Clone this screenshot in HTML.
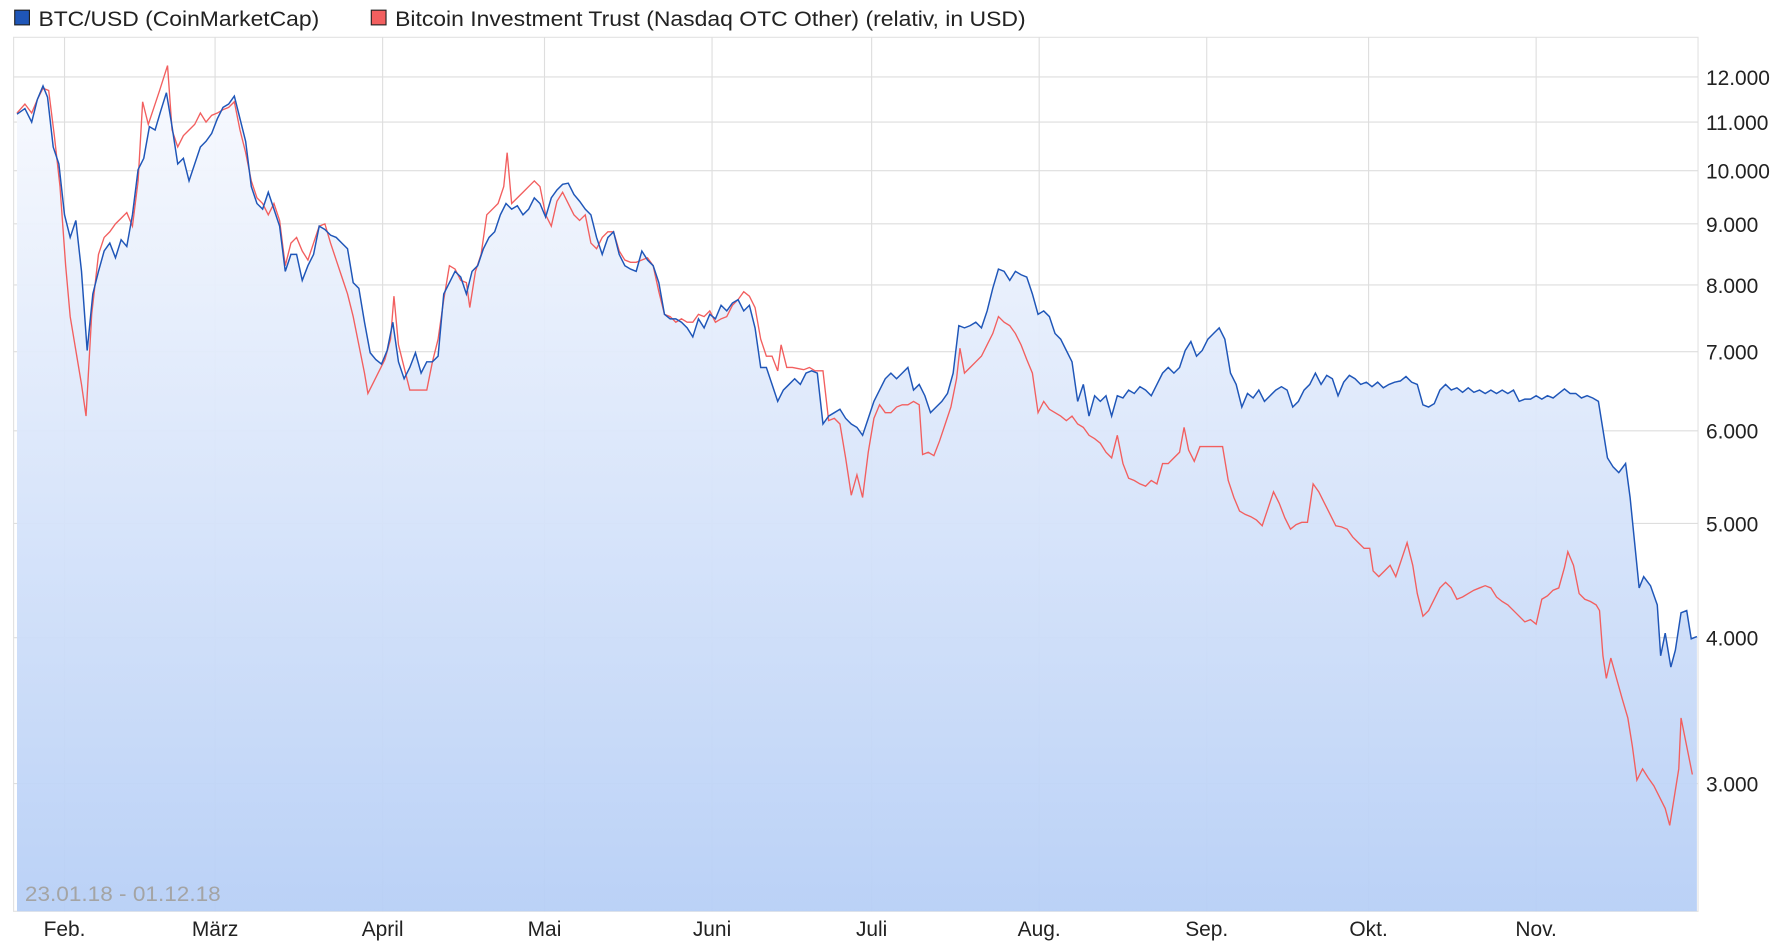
<!DOCTYPE html>
<html><head><meta charset="utf-8"><style>html,body{margin:0;padding:0;background:#fff}svg{display:block}</style></head><body>
<svg width="1775" height="952" viewBox="0 0 1568 842" preserveAspectRatio="none" xmlns="http://www.w3.org/2000/svg" font-family="Liberation Sans, sans-serif">
<defs><linearGradient id="g" x1="0" y1="0" x2="0" y2="1"><stop offset="0" stop-color="#f7f9fe"/><stop offset="1" stop-color="#b7cff6"/></linearGradient></defs>
<rect x="12" y="33" width="1488" height="773" fill="#fff" stroke="#e2e2e2"/>
<g stroke="#dedede" stroke-width="1">
<line x1="12" x2="1500" y1="68" y2="68"/><line x1="12" x2="1500" y1="108" y2="108"/><line x1="12" x2="1500" y1="151" y2="151"/><line x1="12" x2="1500" y1="198" y2="198"/><line x1="12" x2="1500" y1="252" y2="252"/><line x1="12" x2="1500" y1="311" y2="311"/><line x1="12" x2="1500" y1="381" y2="381"/><line x1="12" x2="1500" y1="463" y2="463"/><line x1="12" x2="1500" y1="564" y2="564"/><line x1="12" x2="1500" y1="693" y2="693"/>
<line x1="57" x2="57" y1="33" y2="806"/><line x1="190" x2="190" y1="33" y2="806"/><line x1="338" x2="338" y1="33" y2="806"/><line x1="481" x2="481" y1="33" y2="806"/><line x1="629" x2="629" y1="33" y2="806"/><line x1="770" x2="770" y1="33" y2="806"/><line x1="918" x2="918" y1="33" y2="806"/><line x1="1066" x2="1066" y1="33" y2="806"/><line x1="1209" x2="1209" y1="33" y2="806"/><line x1="1357" x2="1357" y1="33" y2="806"/>
</g>
<polygon fill="url(#g)" opacity="0.95" points="15,806 15,101 22,96 28,108 33,88 38,76 42,86 47,130 52,145 57,190 62,210 67,195 72,240 77,310 82,260 87,240 92,222 97,215 102,228 107,212 112,218 117,190 122,150 127,140 132,112 137,115 142,98 147,82 152,112 157,145 162,140 167,160 172,145 177,130 182,125 187,118 192,105 197,95 202,92 207,85 212,105 217,125 222,165 227,180 232,185 237,170 242,185 247,200 252,240 257,225 262,225 267,248 272,235 277,225 282,200 287,203 292,208 297,210 302,215 307,220 312,250 317,255 322,285 327,312 332,318 337,322 342,310 347,285 352,320 357,335 362,325 367,312 372,330 377,320 382,320 387,315 392,260 397,250 402,240 407,245 412,260 417,240 422,235 427,220 432,210 437,205 442,190 447,180 452,185 457,182 462,190 467,185 472,175 477,180 482,192 487,175 492,168 497,163 502,162 507,172 512,178 517,185 522,190 527,210 532,225 537,210 542,205 547,225 552,235 557,238 562,240 567,222 572,230 577,235 582,250 587,278 592,282 597,282 602,285 607,290 612,298 617,282 622,290 627,278 632,282 637,270 642,275 647,268 652,265 657,275 662,270 667,290 672,325 677,325 682,340 687,355 692,345 697,340 702,335 707,340 712,330 717,328 722,330 727,375 732,368 737,365 742,362 747,370 752,375 757,378 762,385 767,370 772,355 777,345 782,335 787,330 792,335 797,330 802,325 807,345 812,340 817,350 822,365 827,360 832,355 837,348 842,330 847,288 852,290 857,288 862,285 867,290 872,275 877,255 882,238 887,240 892,248 897,240 902,243 907,245 912,260 917,278 922,275 927,280 932,295 937,300 942,310 947,320 952,355 957,340 962,368 967,350 972,355 977,350 982,368 987,350 992,352 997,345 1002,348 1007,342 1012,345 1017,350 1022,340 1027,330 1032,325 1037,330 1042,325 1047,310 1052,302 1057,315 1062,310 1067,300 1072,295 1077,290 1082,300 1087,330 1092,340 1097,360 1102,348 1107,352 1112,345 1117,355 1122,350 1127,345 1132,342 1137,345 1142,360 1147,355 1152,345 1157,340 1162,330 1167,340 1172,332 1177,335 1182,350 1187,338 1192,332 1197,335 1202,340 1207,338 1212,342 1217,338 1222,343 1227,340 1232,338 1237,337 1242,333 1247,338 1252,340 1257,358 1262,360 1267,357 1272,345 1277,340 1282,345 1287,343 1292,347 1297,343 1302,347 1307,345 1312,348 1317,345 1322,348 1327,345 1332,348 1337,345 1342,355 1347,353 1352,353 1357,350 1362,353 1367,350 1372,352 1377,348 1382,344 1387,348 1392,348 1397,352 1402,350 1407,352 1412,355 1416,380 1420,405 1425,413 1430,418 1436,410 1440,440 1444,480 1448,520 1452,510 1458,518 1464,535 1467,580 1471,560 1476,590 1480,575 1485,542 1490,540 1494,565 1499,563 1499,806"/>
<polyline fill="none" stroke="#f25f5f" stroke-width="1.2" points="15,100 22,92 28,100 33,88 38,78 43,80 48,120 53,165 58,235 62,280 67,310 72,340 76,368 81,278 87,225 92,210 97,205 102,198 107,193 112,188 117,200 122,160 126,90 131,110 136,95 141,80 148,58 152,115 157,130 162,120 167,115 172,110 177,100 182,108 187,102 192,100 197,97 202,95 207,90 212,115 217,135 222,160 227,175 232,180 237,190 242,180 247,195 252,235 257,215 262,210 267,222 272,230 277,215 282,200 287,198 292,215 297,230 302,245 307,260 312,280 317,305 322,330 325,348 330,338 335,328 340,318 345,300 348,262 352,305 357,325 362,345 367,345 372,345 377,345 382,320 387,300 392,265 397,235 402,238 407,248 412,250 415,272 420,240 425,225 430,190 435,185 440,180 445,165 448,135 452,180 457,175 462,170 467,165 472,160 477,165 482,190 487,200 492,178 497,170 502,180 507,190 512,195 517,190 522,215 527,220 532,210 537,205 542,205 547,222 552,230 557,232 562,232 567,230 572,228 577,235 582,258 587,278 592,280 597,285 602,282 607,285 612,285 617,278 622,280 627,275 632,285 637,282 642,280 647,270 652,265 657,258 662,262 667,272 672,300 677,315 682,315 687,328 690,305 695,325 700,325 705,326 710,327 715,325 720,328 727,328 732,372 737,370 742,375 747,405 752,438 757,420 762,440 767,400 772,370 777,358 782,365 787,365 792,360 797,358 802,358 807,355 812,358 815,402 820,400 825,403 830,390 835,375 840,360 845,335 848,308 852,330 857,325 862,320 867,315 872,305 877,295 882,280 887,285 892,288 897,295 902,305 907,318 912,330 917,365 922,355 927,362 932,365 937,368 942,372 947,368 952,375 957,378 962,385 967,388 972,392 977,400 982,405 987,385 992,410 997,423 1002,425 1007,428 1012,430 1017,425 1022,428 1027,410 1032,410 1037,405 1042,400 1046,378 1050,398 1055,408 1060,395 1065,395 1070,395 1075,395 1080,395 1085,425 1090,440 1095,452 1100,455 1105,457 1110,460 1115,465 1120,450 1125,435 1130,445 1135,458 1140,468 1145,464 1150,462 1155,462 1160,428 1165,435 1170,445 1175,455 1180,465 1185,466 1190,468 1195,475 1200,480 1205,485 1210,485 1213,505 1218,510 1223,505 1228,500 1233,510 1238,495 1243,480 1248,500 1252,525 1257,545 1262,540 1267,530 1272,520 1277,515 1282,520 1287,530 1292,528 1297,525 1302,522 1307,520 1312,518 1317,520 1322,528 1327,532 1332,535 1337,540 1342,545 1347,550 1352,548 1357,552 1362,530 1367,527 1372,522 1377,520 1382,502 1385,488 1390,500 1395,525 1400,530 1405,532 1410,535 1413,540 1416,580 1419,600 1423,582 1428,600 1433,618 1438,635 1442,660 1446,690 1451,680 1456,688 1461,695 1466,705 1471,715 1475,730 1479,705 1483,680 1485,635 1490,660 1495,685"/>
<polyline fill="none" stroke="#1f56b8" stroke-width="1.3" points="15,101 22,96 28,108 33,88 38,76 42,86 47,130 52,145 57,190 62,210 67,195 72,240 77,310 82,260 87,240 92,222 97,215 102,228 107,212 112,218 117,190 122,150 127,140 132,112 137,115 142,98 147,82 152,112 157,145 162,140 167,160 172,145 177,130 182,125 187,118 192,105 197,95 202,92 207,85 212,105 217,125 222,165 227,180 232,185 237,170 242,185 247,200 252,240 257,225 262,225 267,248 272,235 277,225 282,200 287,203 292,208 297,210 302,215 307,220 312,250 317,255 322,285 327,312 332,318 337,322 342,310 347,285 352,320 357,335 362,325 367,312 372,330 377,320 382,320 387,315 392,260 397,250 402,240 407,245 412,260 417,240 422,235 427,220 432,210 437,205 442,190 447,180 452,185 457,182 462,190 467,185 472,175 477,180 482,192 487,175 492,168 497,163 502,162 507,172 512,178 517,185 522,190 527,210 532,225 537,210 542,205 547,225 552,235 557,238 562,240 567,222 572,230 577,235 582,250 587,278 592,282 597,282 602,285 607,290 612,298 617,282 622,290 627,278 632,282 637,270 642,275 647,268 652,265 657,275 662,270 667,290 672,325 677,325 682,340 687,355 692,345 697,340 702,335 707,340 712,330 717,328 722,330 727,375 732,368 737,365 742,362 747,370 752,375 757,378 762,385 767,370 772,355 777,345 782,335 787,330 792,335 797,330 802,325 807,345 812,340 817,350 822,365 827,360 832,355 837,348 842,330 847,288 852,290 857,288 862,285 867,290 872,275 877,255 882,238 887,240 892,248 897,240 902,243 907,245 912,260 917,278 922,275 927,280 932,295 937,300 942,310 947,320 952,355 957,340 962,368 967,350 972,355 977,350 982,368 987,350 992,352 997,345 1002,348 1007,342 1012,345 1017,350 1022,340 1027,330 1032,325 1037,330 1042,325 1047,310 1052,302 1057,315 1062,310 1067,300 1072,295 1077,290 1082,300 1087,330 1092,340 1097,360 1102,348 1107,352 1112,345 1117,355 1122,350 1127,345 1132,342 1137,345 1142,360 1147,355 1152,345 1157,340 1162,330 1167,340 1172,332 1177,335 1182,350 1187,338 1192,332 1197,335 1202,340 1207,338 1212,342 1217,338 1222,343 1227,340 1232,338 1237,337 1242,333 1247,338 1252,340 1257,358 1262,360 1267,357 1272,345 1277,340 1282,345 1287,343 1292,347 1297,343 1302,347 1307,345 1312,348 1317,345 1322,348 1327,345 1332,348 1337,345 1342,355 1347,353 1352,353 1357,350 1362,353 1367,350 1372,352 1377,348 1382,344 1387,348 1392,348 1397,352 1402,350 1407,352 1412,355 1416,380 1420,405 1425,413 1430,418 1436,410 1440,440 1444,480 1448,520 1452,510 1458,518 1464,535 1467,580 1471,560 1476,590 1480,575 1485,542 1490,540 1494,565 1499,563"/>
<g font-size="19" fill="#222">
<rect x="13" y="9" width="13" height="13" fill="#1f56b8" stroke="#222" stroke-width="1"/>
<text x="34" y="23" textLength="248" lengthAdjust="spacingAndGlyphs">BTC/USD (CoinMarketCap)</text>
<rect x="328" y="9" width="13" height="13" fill="#f25f5f" stroke="#222" stroke-width="1"/>
<text x="349" y="23" textLength="557" lengthAdjust="spacingAndGlyphs">Bitcoin Investment Trust (Nasdaq OTC Other) (relativ, in USD)</text>
<g text-anchor="middle" font-size="18.5">
<text x="57" y="828">Feb.</text><text x="190" y="828">März</text><text x="338" y="828">April</text><text x="481" y="828">Mai</text><text x="629" y="828">Juni</text><text x="770" y="828">Juli</text><text x="918" y="828">Aug.</text><text x="1066" y="828">Sep.</text><text x="1209" y="828">Okt.</text><text x="1357" y="828">Nov.</text>
</g>
<g font-size="18.5">
<text x="1507" y="75">12.000</text><text x="1507" y="115">11.000</text><text x="1507" y="158">10.000</text><text x="1507" y="205">9.000</text><text x="1507" y="259">8.000</text><text x="1507" y="318">7.000</text><text x="1507" y="388">6.000</text><text x="1507" y="470">5.000</text><text x="1507" y="571">4.000</text><text x="1507" y="700">3.000</text>
</g>
<text x="22" y="797" fill="#a4a4a4" font-size="18.5" textLength="173" lengthAdjust="spacingAndGlyphs">23.01.18 - 01.12.18</text>
</g>
</svg>
</body></html>
